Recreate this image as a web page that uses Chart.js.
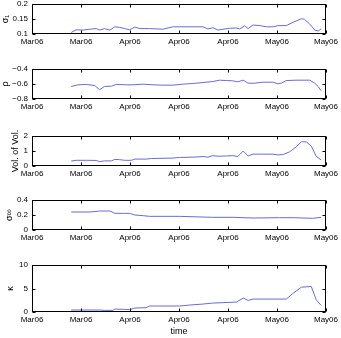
<!DOCTYPE html>
<html>
<head>
<meta charset="utf-8">
<script src="https://cdn.jsdelivr.net/npm/chart.js@4"></script>
<style>
  html, body { margin: 0; padding: 0; background: #fff; }
  #wrap { position: relative; width: 341px; height: 338px; overflow: hidden; }
  #wrap canvas { position: absolute; left: 0; }
</style>
</head>
<body>
<div id="wrap"></div>
<script>
/* five stacked panels, shared time axis */

const xTickLabels = ['Mar06', 'Mar06', 'Apr06', 'Apr06', 'Apr06', 'May06', 'May06'];

// sigma_1
const sig1X = [0.80, 0.90, 1.04, 1.18, 1.31, 1.38, 1.48, 1.59, 1.69, 1.79, 1.89, 1.99, 2.10, 2.20, 2.40, 2.67, 2.88, 3.01, 3.29, 3.49, 3.59, 3.69, 3.80, 3.90, 4.03, 4.17, 4.24, 4.34, 4.41, 4.51, 4.65, 4.78, 4.92, 5.02, 5.19, 5.33, 5.50, 5.56, 5.67, 5.77, 5.84, 5.90];
const sig1Y = [0.105, 0.114, 0.113, 0.116, 0.118, 0.113, 0.118, 0.113, 0.124, 0.122, 0.118, 0.114, 0.123, 0.118, 0.118, 0.116, 0.124, 0.124, 0.124, 0.124, 0.117, 0.121, 0.113, 0.116, 0.119, 0.120, 0.117, 0.127, 0.118, 0.130, 0.128, 0.124, 0.124, 0.128, 0.128, 0.139, 0.151, 0.149, 0.133, 0.113, 0.110, 0.117];

// rho
const rhoX = [0.80, 0.94, 1.11, 1.28, 1.38, 1.48, 1.62, 1.72, 1.93, 2.06, 2.27, 2.47, 2.67, 2.88, 3.08, 3.29, 3.49, 3.69, 3.83, 3.97, 4.10, 4.20, 4.31, 4.41, 4.54, 4.71, 4.92, 5.02, 5.09, 5.19, 5.39, 5.67, 5.77, 5.84, 5.90];
const rhoY = [-0.633, -0.611, -0.606, -0.620, -0.677, -0.633, -0.629, -0.606, -0.611, -0.611, -0.602, -0.611, -0.615, -0.615, -0.602, -0.593, -0.580, -0.567, -0.549, -0.554, -0.558, -0.571, -0.549, -0.589, -0.589, -0.576, -0.576, -0.598, -0.589, -0.554, -0.549, -0.549, -0.589, -0.633, -0.690];

// vol of vol
const volX = [0.80, 0.90, 1.11, 1.31, 1.38, 1.48, 1.62, 1.69, 1.79, 1.89, 2.03, 2.10, 2.33, 2.44, 2.88, 3.01, 3.29, 3.49, 3.59, 3.69, 3.80, 3.97, 4.10, 4.20, 4.31, 4.41, 4.51, 4.65, 4.92, 5.02, 5.12, 5.26, 5.39, 5.50, 5.60, 5.70, 5.80, 5.90];
const volY = [0.33, 0.38, 0.38, 0.37, 0.29, 0.34, 0.34, 0.44, 0.42, 0.38, 0.38, 0.46, 0.46, 0.50, 0.53, 0.57, 0.59, 0.63, 0.59, 0.69, 0.65, 0.67, 0.69, 0.63, 1.00, 0.67, 0.79, 0.79, 0.79, 0.74, 0.76, 0.95, 1.27, 1.62, 1.60, 1.33, 0.65, 0.40];

// sigma_inf
const sigInfX = [0.80, 1.18, 1.38, 1.59, 1.69, 1.89, 1.99, 2.10, 2.27, 2.40, 3.01, 3.69, 4.10, 4.51, 5.05, 5.33, 5.73, 5.90];
const sigInfY = [0.240, 0.240, 0.253, 0.253, 0.222, 0.222, 0.222, 0.200, 0.191, 0.182, 0.182, 0.169, 0.169, 0.160, 0.164, 0.164, 0.156, 0.169];

// kappa
const kapX = [0.80, 1.38, 1.48, 1.65, 1.69, 1.89, 1.99, 2.10, 2.33, 2.40, 2.61, 3.01, 3.22, 3.49, 3.69, 4.17, 4.31, 4.41, 4.51, 4.78, 4.92, 5.02, 5.19, 5.33, 5.50, 5.70, 5.80, 5.90];
const kapY = [0.42, 0.42, 0.35, 0.35, 0.63, 0.56, 0.49, 0.85, 0.92, 1.27, 1.27, 1.27, 1.48, 1.69, 1.90, 2.11, 2.96, 2.46, 2.75, 2.75, 2.75, 2.75, 2.75, 4.01, 5.28, 5.42, 2.61, 1.41];

const LINE = '#6a6ad8';
const FONT = { family: "'Liberation Sans', Arial, Helvetica, sans-serif", size: 8 };
const TITLE_FONT = { family: "'Liberation Sans', Arial, Helvetica, sans-serif", size: 9 };
const PAD_TOP = 10;

const fmtTick = v => (Math.round(v * 100) / 100).toString().replace('-', '\u2212');

// matlab-like box with inward ticks on all four sides
const boxTicks = {
  id: 'boxTicks',
  afterDraw(chart) {
    const { ctx, chartArea: a, scales: { x, y } } = chart;
    const L = Math.round(a.left) + 0.5, R = Math.round(a.right) - 0.5;
    const T = Math.round(a.top) + 0.5, B = Math.round(a.bottom) - 0.5;
    ctx.save();
    ctx.strokeStyle = '#000';
    ctx.lineWidth = 1;
    ctx.strokeRect(L, T, R - L, B - T);
    ctx.beginPath();
    x.ticks.forEach(t => {
      const px = Math.round(x.getPixelForValue(t.value)) + 0.5;
      ctx.moveTo(px, B); ctx.lineTo(px, B - 3);
      ctx.moveTo(px, T); ctx.lineTo(px, T + 3);
    });
    y.ticks.forEach(t => {
      const py = Math.round(y.getPixelForValue(t.value)) + 0.5;
      ctx.moveTo(L, py); ctx.lineTo(L + 3, py);
      ctx.moveTo(R, py); ctx.lineTo(R - 3, py);
    });
    ctx.stroke();
    ctx.restore();
  }
};

const panels = [
  { xs: sig1X, ys: sig1Y, yTicks: [0.1, 0.15, 0.2], yTitle: 'σ\u2081', titlePad: 0, plotTop: 4, plotH: 30, xAxisH: 16 },
  { xs: rhoX, ys: rhoY, yTicks: [-0.8, -0.6, -0.4], yTitle: 'ρ', titlePad: 0, plotTop: 69, plotH: 30, xAxisH: 16 },
  { xs: volX, ys: volY, yTicks: [0, 1, 2], yTitle: 'Vol. of Vol.', titlePad: 10, plotTop: 136, plotH: 30, xAxisH: 16 },
  { xs: sigInfX, ys: sigInfY, yTicks: [0, 0.2, 0.4], yTitle: 'σ\u221E', titlePad: 4, plotTop: 200, plotH: 30, xAxisH: 16 },
  { xs: kapX, ys: kapY, yTicks: [0, 5, 10], yTitle: 'κ', titlePad: 5, plotTop: 265, plotH: 47, xAxisH: 26, xTitle: 'time' },
];

const wrap = document.getElementById('wrap');

function makePanel(p) {
  const c = document.createElement('canvas');
  const h = PAD_TOP + p.plotH + p.xAxisH;
  c.width = 341; c.height = h;
  c.style.width = '341px'; c.style.height = h + 'px';
  c.style.top = (p.plotTop - PAD_TOP) + 'px';
  wrap.appendChild(c);

  new Chart(c, {
    type: 'line',
    data: {
      datasets: [{
        data: p.xs.map((x, i) => ({ x, y: p.ys[i] })),
        borderColor: LINE, borderWidth: 1, pointRadius: 0, tension: 0, fill: false
      }]
    },
    options: {
      responsive: false, animation: false, devicePixelRatio: 1,
      layout: { padding: { top: PAD_TOP, right: 15, left: 0, bottom: 0 } },
      plugins: { legend: { display: false }, tooltip: { enabled: false } },
      scales: {
        x: {
          type: 'linear', min: 0, max: 6,
          afterBuildTicks: s => { s.ticks = xTickLabels.map((_, i) => ({ value: i })); },
          afterFit: s => { s.height = p.xAxisH; },
          grid: { display: false, drawTicks: false, tickLength: 0 }, border: { display: false },
          ticks: { color: '#000', font: FONT, padding: 3, maxRotation: 0, autoSkip: false, callback: v => xTickLabels[v] },
          title: p.xTitle
            ? { display: true, text: p.xTitle, color: '#000', font: TITLE_FONT, padding: { top: 0, bottom: 1 } }
            : { display: false }
        },
        y: {
          type: 'linear', min: p.yTicks[0], max: p.yTicks[p.yTicks.length - 1],
          afterBuildTicks: s => { s.ticks = p.yTicks.map(v => ({ value: v })); },
          afterFit: s => { s.width = 32; },
          grid: { display: false, drawTicks: false, tickLength: 0 }, border: { display: false },
          ticks: { color: '#000', font: FONT, padding: 4, callback: v => fmtTick(v) },
          title: { display: true, text: p.yTitle, color: '#000', font: TITLE_FONT, padding: { top: p.titlePad, bottom: 0 } }
        }
      }
    },
    plugins: [boxTicks]
  });
}

panels.forEach(makePanel);
</script>
</body>
</html>
